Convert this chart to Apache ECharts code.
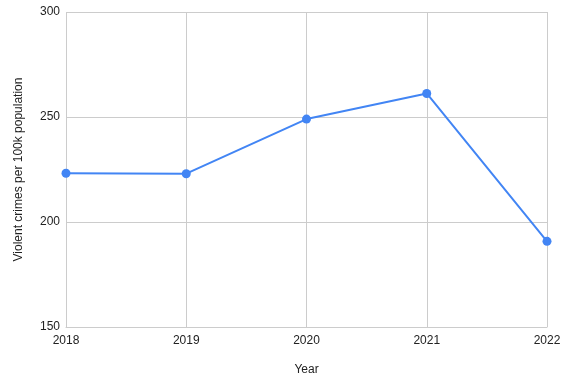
<!DOCTYPE html>
<html><head><meta charset="utf-8">
<script src="https://cdn.jsdelivr.net/npm/echarts@6/dist/echarts.min.js"></script>
<style>html,body{margin:0;padding:0;background:#fff}#c{width:567px;height:377px}</style>
</head><body><div id="c"></div>
<script>
const years = ['2018','2019','2020','2021','2022'];
const crimes = [223.2, 223.0, 249.0, 261.2, 190.8];
const yTicks = [150, 300, 50];
const chart = echarts.init(document.getElementById('c'));
const font = 'Liberation Sans, Arial, sans-serif';
chart.setOption({
  animation:false,
  grid:{left:66,right:20,top:12,bottom:50,outerBoundsMode:'none',containLabel:false},
  xAxis:{type:'category',data:years,boundaryGap:false,
    name:'Year',nameLocation:'middle',nameGap:37,
    nameTextStyle:{color:'#222',fontSize:12,fontFamily:font},
    axisLine:{lineStyle:{color:'#ccc'}},axisTick:{show:false},
    axisLabel:{color:'#222',fontSize:12,fontFamily:font,margin:8},
    splitLine:{show:true,lineStyle:{color:'#ccc'}}},
  yAxis:{type:'value',min:yTicks[0],max:yTicks[1],interval:yTicks[2],
    name:'Violent crimes per 100k population',nameLocation:'middle',nameGap:41,
    nameTextStyle:{color:'#222',fontSize:12,fontFamily:font},
    axisLine:{show:false},axisTick:{show:false},
    axisLabel:{color:'#222',fontSize:12,fontFamily:font,margin:6},
    splitLine:{lineStyle:{color:'#ccc'}}},
  series:[{type:'line',data:crimes,symbol:'circle',symbolSize:9,
    lineStyle:{color:'#4285F4',width:2},itemStyle:{color:'#4285F4'}}]
});
</script></body></html>
